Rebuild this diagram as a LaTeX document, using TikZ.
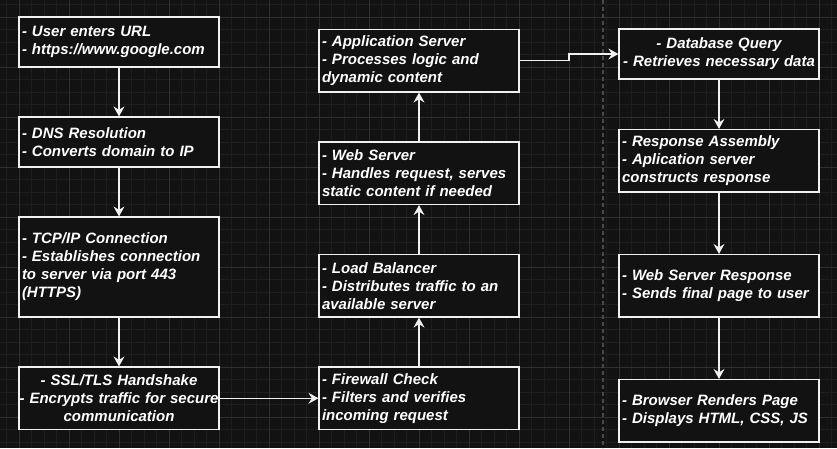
\documentclass[tikz,border=0pt]{standalone}
\usepackage{fontspec}
\setmainfont{Liberation Sans}
\usetikzlibrary{arrows.meta,calc}
\definecolor{bg}{HTML}{121212}
\definecolor{gridminor}{HTML}{1E1E1E}
\definecolor{gridmajor}{HTML}{2F2F2F}
\definecolor{edge}{HTML}{F0F0F0}
\definecolor{divider}{HTML}{4A4A4A}
\hyphenpenalty=10000
\exhyphenpenalty=10000
\begin{document}
\begin{tikzpicture}[x=1pt,y=-1pt,
  box/.style={draw=edge, line width=1.2pt, fill=bg, text=white,
    font=\fontsize{15}{18}\selectfont\bfseries\itshape,
    minimum width=200pt, text width=194pt, inner xsep=3pt, inner ysep=0pt, align=left},
  cbox/.style={box, align=center, text width=214pt, inner xsep=-7pt},
  conn/.style={draw=edge, line width=1.2pt, -{Stealth[length=10pt,width=11pt,inset=3.5pt]}}]
\fill[bg] (0,0) rectangle (837,448);
\useasboundingbox (0,0) rectangle (837,448);
\begin{scope}
\clip (0,0) rectangle (837,448);
\foreach \k in {0,...,67} \draw[gridminor, line width=1pt] ({-6+12.5*\k},0) -- ({-6+12.5*\k},448);
\foreach \k in {0,...,37} \draw[gridminor, line width=1pt] (0,{-8+12.5*\k}) -- (837,{-8+12.5*\k});
\foreach \k in {0,...,16} \draw[gridmajor, line width=1pt] ({19+50*\k},0) -- ({19+50*\k},448);
\foreach \k in {0,...,8} \draw[gridmajor, line width=1pt] (0,{17+50*\k}) -- (837,{17+50*\k});
\end{scope}
\draw[divider, line width=1.5pt, dash pattern=on 4pt off 3pt] (603,0) -- (603,448);

\node[box, minimum height=50pt] (url) at (119,42) {- User enters URL\\- https://www.google.com};
\node[box, minimum height=50pt] (dns) at (119,142) {- DNS Resolution\\- Converts domain to IP};
\node[box, minimum height=100pt] (tcp) at (119,267) {- TCP/IP Connection\\- Establishes connection\\to server via port 443\\(HTTPS)};
\node[cbox, minimum height=62.5pt] (ssl) at (119,398.25) {- SSL/TLS Handshake\\- Encrypts traffic for secure\\communication};

\node[box, minimum height=62.5pt] (app) at (419,60.75) {- Application Server\\- Processes logic and\\dynamic content};
\node[box, minimum height=62.5pt] (web) at (419,173.25) {- Web Server\\- Handles request, serves\\static content if needed};
\node[box, minimum height=62.5pt] (lb) at (419,285.75) {- Load Balancer\\- Distributes traffic to an\\available server};
\node[box, minimum height=62.5pt] (fw) at (419,398.25) {- Firewall Check\\- Filters and verifies\\incoming request};

\node[cbox, minimum height=50pt] (db) at (719,54) {- Database Query\\- Retrieves necessary data};
\node[box, minimum height=62.5pt] (ra) at (719,160.75) {- Response Assembly\\- Aplication server\\constructs response};
\node[box, minimum height=62.5pt] (wsr) at (719,285.75) {- Web Server Response\\- Sends final page to user};
\node[box, minimum height=62.5pt] (br) at (719,410.75) {- Browser Renders Page\\- Displays HTML, CSS, JS};

\draw[conn] (url) -- (dns);
\draw[conn] (dns) -- (tcp);
\draw[conn] (tcp) -- (ssl);
\draw[conn] (ssl) -- (fw);
\draw[conn] (fw) -- (lb);
\draw[conn] (lb) -- (web);
\draw[conn] (web) -- (app);
\draw[conn] (app.east) -| ($(app.east)!0.5!(db.west)$) |- (db.west);
\draw[conn] (db) -- (ra);
\draw[conn] (ra) -- (wsr);
\draw[conn] (wsr) -- (br);
\end{tikzpicture}
\end{document}
